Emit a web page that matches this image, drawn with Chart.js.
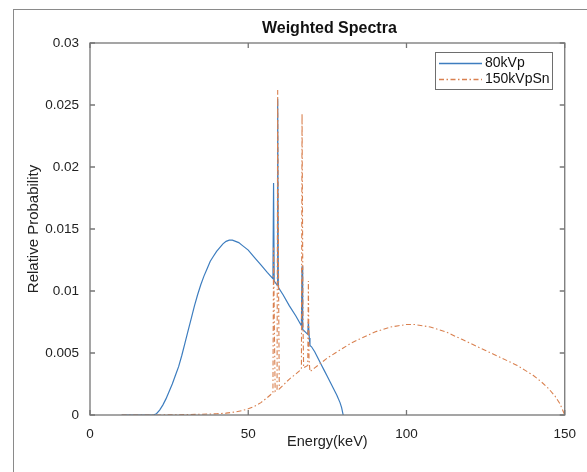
<!DOCTYPE html>
<html>
<head>
<meta charset="utf-8">
<script src="https://cdn.jsdelivr.net/npm/chart.js@4"></script>
<style>
html, body { margin: 0; padding: 0; background: #fff; overflow: hidden; }
#frame { position: absolute; left: 13px; top: 9px; width: 640px; height: 540px; border: 1px solid #8a8a8a; }
#wrap { position: absolute; left: 0; top: 0; width: 587px; height: 472px; }
</style>
</head>
<body>
<div id="frame"></div>
<div id="wrap"><canvas id="myChart" width="587" height="472"></canvas></div>
<script>
// 80kVp spectrum (energy in keV, relative probability)
const kvp80Energy = [10, 20, 21, 22, 23, 24, 25, 26, 27, 28, 29, 30, 31, 32, 33, 34, 35, 36, 37, 38,
    39, 40, 41, 42, 43, 44, 45, 46, 47, 48, 50, 52, 54, 56,
    57.8, 58.0, 58.2, 59.1, 59.3, 59.5, 61, 63, 65, 66.8, 67.0, 67.2, 68, 68.8, 69.0, 69.3, 69.5,
    70, 71, 72, 73, 74, 75, 76, 77, 78, 79, 79.5, 80];
const kvp80Prob = [0, 0, 0.0001, 0.0004, 0.0008, 0.0013, 0.0019, 0.0025, 0.0032, 0.0039, 0.0048,
    0.0058, 0.0068, 0.0078, 0.0088, 0.0097, 0.0105, 0.0112, 0.0118, 0.0124,
    0.0128, 0.0132, 0.0135, 0.0138, 0.0140, 0.0141, 0.0141, 0.0140, 0.0139, 0.0137, 0.0133,
    0.0127, 0.0121, 0.0115,
    0.0110, 0.0187, 0.0108, 0.0105, 0.0255, 0.0103, 0.0097, 0.0088, 0.0080, 0.0072, 0.0120,
    0.0069, 0.0067, 0.0065, 0.0075, 0.0062, 0.0056,
    0.0055, 0.0051, 0.0046, 0.0041, 0.0036, 0.0031, 0.0026, 0.0021, 0.0016, 0.0010, 0.0006, 0];

// 150kVpSn spectrum
const kvp150Energy = [10, 20, 25, 30, 35, 40, 43, 46, 48, 50, 52, 54, 56,
    57.8, 58.0, 58.3, 58.5, 59.1, 59.3, 59.6, 59.8, 61, 63, 65,
    66.8, 67.0, 67.3, 67.5, 68.8, 69.0, 69.2, 69.5,
    71, 73, 75, 77.5, 80, 82.5, 85, 87.5, 90, 92.5, 95, 97.5, 100, 102.5, 105, 107.5,
    110, 112.5, 115, 117.5, 120, 122.5, 125, 127.5, 130, 132.5, 135, 137.5, 140, 142.5,
    145, 147, 148.5, 150];
const kvp150Prob = [0, 0, 0.00001, 0.00003, 0.00006, 0.0001, 0.00015, 0.00025, 0.00035, 0.0005,
    0.0007, 0.0010, 0.0014,
    0.0018, 0.0135, 0.0060, 0.0019, 0.0020, 0.0262, 0.0098, 0.0021, 0.0024, 0.0029, 0.0033,
    0.0037, 0.0243, 0.0075, 0.0038, 0.0040, 0.0108, 0.0045, 0.0035,
    0.0038, 0.0042, 0.0046, 0.0050, 0.0054, 0.0058, 0.0061, 0.0064, 0.0067, 0.0069, 0.0071,
    0.0072, 0.0073, 0.0073, 0.0072, 0.0071,
    0.0069, 0.0067, 0.0064, 0.0061, 0.0058, 0.0055, 0.0052, 0.0049, 0.0046, 0.0043, 0.0040,
    0.0036, 0.0032, 0.0027, 0.0021, 0.0015, 0.0009, 0];

const seriesNames = ['80kVp', '150kVpSn'];
const xTicks = [0, 50, 100, 150];
const yTickLabels = ['0', '0.005', '0.01', '0.015', '0.02', '0.025', '0.03'];

const blue = '#3d7dbf';
const orange = '#d9804f';
const dashDot = [5, 2.5, 1.5, 2.5];
const fontName = '"Liberation Sans", Arial, sans-serif';

function toPoints(xs, ys) {
    return xs.map((x, i) => ({ x: x, y: ys[i] }));
}

// axes box, inward ticks, title and legend like the original figure
const matlabLook = {
    id: 'matlabLook',
    afterDraw(chart) {
        const ctx = chart.ctx;
        const a = chart.chartArea;
        const xs = chart.scales.x, ys = chart.scales.y;
        ctx.save();
        ctx.strokeStyle = '#767676';
        ctx.lineWidth = 1.3;
        ctx.strokeRect(a.left, a.top, a.right - a.left, a.bottom - a.top);
        ctx.beginPath();
        xTicks.forEach(v => {
            const px = xs.getPixelForValue(v);
            ctx.moveTo(px, a.bottom); ctx.lineTo(px, a.bottom - 5);
            ctx.moveTo(px, a.top); ctx.lineTo(px, a.top + 5);
        });
        yTickLabels.forEach((t, i) => {
            const py = ys.getPixelForValue(i * 0.005);
            ctx.moveTo(a.left, py); ctx.lineTo(a.left + 5, py);
            ctx.moveTo(a.right, py); ctx.lineTo(a.right - 5, py);
        });
        ctx.stroke();

        // title
        ctx.fillStyle = '#111';
        ctx.font = 'bold 16px ' + fontName;
        ctx.textAlign = 'center';
        ctx.textBaseline = 'middle';
        ctx.fillText('Weighted Spectra', (a.left + a.right) / 2 + 2, 29);

        // legend
        const lx = 435, ly = 52, lw = 117, lh = 37;
        ctx.fillStyle = '#fff';
        ctx.fillRect(lx, ly, lw, lh);
        ctx.strokeStyle = '#6e6e6e';
        ctx.lineWidth = 1;
        ctx.strokeRect(lx + 0.5, ly + 0.5, lw, lh);
        const rows = [63.5, 79.5];
        const colors = [blue, orange];
        ctx.font = '14px ' + fontName;
        ctx.textAlign = 'left';
        rows.forEach((ry, i) => {
            ctx.beginPath();
            ctx.strokeStyle = colors[i];
            ctx.lineWidth = 1.3;
            ctx.setLineDash(i === 1 ? dashDot : []);
            ctx.moveTo(439, ry); ctx.lineTo(482, ry);
            ctx.stroke();
            ctx.setLineDash([]);
            ctx.fillStyle = '#111';
            ctx.fillText(seriesNames[i], 485, ry);
        });
        ctx.restore();
    }
};

const ctx = document.getElementById('myChart');

const myChart = new Chart(ctx, {
    type: 'line',
    data: {
        datasets: [{
            label: seriesNames[0],
            data: toPoints(kvp80Energy, kvp80Prob),
            borderColor: blue,
            borderWidth: 1.2,
            pointRadius: 0,
            tension: 0,
            order: 1
        }, {
            label: seriesNames[1],
            data: toPoints(kvp150Energy, kvp150Prob),
            borderColor: orange,
            borderWidth: 1.1,
            borderDash: dashDot,
            pointRadius: 0,
            tension: 0,
            order: 0
        }]
    },
    options: {
        responsive: false,
        animation: false,
        layout: {
            padding: { top: 43, right: 21, left: 0, bottom: 0 }
        },
        scales: {
            x: {
                type: 'linear',
                min: 0,
                max: 150,
                afterFit: scale => { scale.height = 57; },
                afterBuildTicks: scale => { scale.ticks = xTicks.map(v => ({ value: v })); },
                grid: { display: false, drawTicks: false },
                border: { display: false },
                ticks: {
                    padding: 11,
                    color: '#222',
                    font: { family: fontName, size: 13.5 },
                    maxRotation: 0,
                    callback: v => String(v)
                },
                title: {
                    display: true,
                    text: 'Energy(keV)',
                    color: '#222',
                    font: { family: fontName, size: 14.5 },
                    padding: { top: 0, bottom: 21 }
                }
            },
            y: {
                min: 0,
                max: 0.03,
                afterFit: scale => { scale.width = 90; },
                afterBuildTicks: scale => { scale.ticks = yTickLabels.map((t, i) => ({ value: i * 0.005 })); },
                grid: { display: false, drawTicks: false },
                border: { display: false },
                ticks: {
                    padding: 11,
                    color: '#222',
                    font: { family: fontName, size: 13.5 },
                    callback: (v, i) => yTickLabels[i]
                },
                title: {
                    display: true,
                    text: 'Relative Probability',
                    color: '#222',
                    font: { family: fontName, size: 15 },
                    padding: { top: 25, bottom: 0 }
                }
            }
        },
        plugins: {
            legend: { display: false },
            tooltip: { enabled: false }
        }
    },
    plugins: [matlabLook]
});
</script>
</body>
</html>
